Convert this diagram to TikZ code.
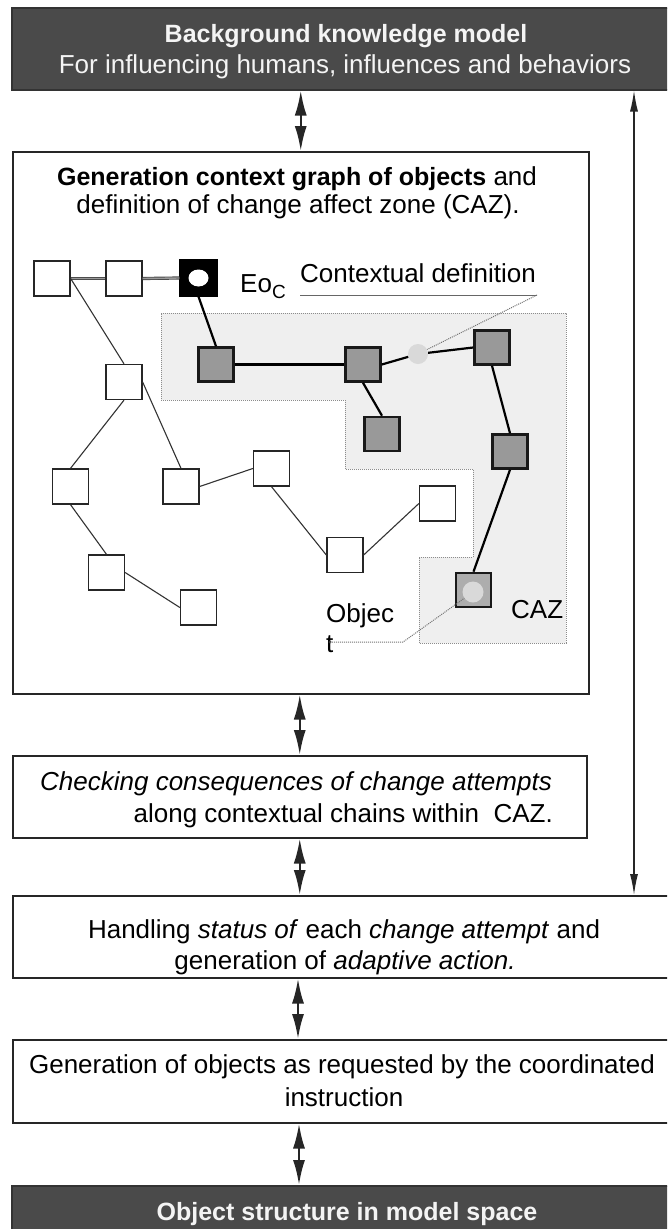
\documentclass[tikz,border=0pt]{standalone}
\usepackage{fontspec}
\setmainfont{Liberation Sans}
\usetikzlibrary{arrows.meta}

\definecolor{panel}{HTML}{4A4A4A}
\definecolor{objgray}{HTML}{999999}
\definecolor{zonefill}{HTML}{EFEFEF}
\definecolor{dotgray}{HTML}{D9D9D9}
\definecolor{paletext}{HTML}{F4F4F4}

\newcommand\regtext{\fontsize{26}{32}\selectfont}
\newcommand\boldtext{\fontsize{25}{32}\selectfont\bfseries}

\begin{document}
\begin{tikzpicture}[x=1pt,y=-1pt,
  frame/.style={draw=black!85,line width=1.5pt,fill=white,rectangle,inner sep=0,anchor=north west},
  darkframe/.style={draw=black!80,line width=1.5pt,fill=panel,rectangle,inner sep=0,anchor=north west},
  txt/.style={inner sep=0,anchor=base,font=\regtext},
  wtxt/.style={txt,text=paletext},
  dbl/.style={line width=2.4pt,black!85,{Latex[length=25pt,width=12pt]}-{Latex[length=25pt,width=12pt]}},
  sidearrow/.style={line width=1.3pt,black!85,{Latex[length=21pt,width=8pt]}-{Latex[length=21pt,width=8pt]}},
  wbox/.style={draw=black!85,line width=1.3pt,fill=white,minimum width=36,minimum height=35,inner sep=0},
  gbox/.style={draw=black!90,line width=2.6pt,fill=objgray,minimum width=35,minimum height=34,inner sep=0},
  thinedge/.style={draw=black!80,line width=1.1pt},
  bandedge/.style={draw=black!70,double=black!40,line width=0.9pt,double distance=1.4pt},
  boldedge/.style={draw=black,line width=2.2pt},
  lead/.style={densely dotted,draw=black!55,line width=1pt}
]
\clip (0,0) rectangle (667,1229);
\fill[white] (0,0) rectangle (667,1229);

% ---- main boxes ----
\node[darkframe,minimum width=666,minimum height=82] (top) at (11,7) {};
\node[frame,minimum width=576,minimum height=542] (graph) at (12,151) {};
\node[frame,minimum width=574,minimum height=82] (check) at (12,755) {};
\node[frame,minimum width=665,minimum height=82] (handle) at (12,895) {};
\node[frame,minimum width=665,minimum height=83] (gener) at (12,1039) {};
\node[darkframe,minimum width=666,minimum height=60] (bottom) at (11,1185) {};

% ---- box texts ----
\node[wtxt,font=\boldtext] (topA) at (346,42) {Background knowledge model};
\node[wtxt] (topB) at (345,73) {For influencing humans, influences and behaviors};

\node[txt] (gA) at (297,185) {{\boldtext Generation context graph of objects} and};
\node[txt] (gB) at (298,213) {definition of change affect zone (CAZ).};

\node[txt,anchor=base west] (cA) at (40,790) {\itshape Checking consequences of change attempts};
\node[txt,anchor=base east] (cB) at (553,822) {along contextual chains within\ \ CAZ.};

\node[txt] (hA) at (344,938) {Handling \textit{status of} each \textit{change attempt} and};
\node[txt] (hB) at (345,969) {generation of \textit{adaptive action.}};

\node[txt] (nA) at (342,1073) {Generation of objects as requested by the coordinated};
\node[txt] (nB) at (344,1106) {instruction};

\node[wtxt,font=\boldtext] (bA) at (347,1220) {Object structure in model space};

% ---- connectors between stages ----
\draw[dbl] (graph.north |- top.south) -- (graph.north);
\draw[dbl] (check.north |- graph.south) -- (check.north);
\draw[dbl] (check.south) -- (check.south |- handle.north);
\coordinate (ax) at (298,0);
\draw[dbl] (ax |- handle.south) -- (ax |- gener.north);
\coordinate (bx) at (299,0);
\draw[dbl] (bx |- gener.south) -- (bx |- bottom.north);
\coordinate (rx) at (634,0);
\draw[sidearrow] (rx |- top.south) -- (rx |- handle.north);

% ---- change affect zone ----
\filldraw[fill=zonefill,draw=black!45,densely dotted,line width=1pt]
  (161,313) -- (566,313) -- (566,643) -- (419,643) -- (419,557) -- (473,557)
  -- (473,469) -- (345,469) -- (345,400) -- (161,400) -- cycle;

% ---- object nodes ----
\node[wbox] (A) at (52,278.5) {};
\node[wbox] (B) at (124,278.5) {};
\node[draw=black,fill=black,line width=1.2pt,minimum width=37,minimum height=36,inner sep=0] (E) at (198.5,278) {};
\fill[white] (E.center) ellipse [x radius=10pt,y radius=8.5pt];

\node[gbox] (G1) at (216,364.5) {};
\node[gbox] (G2) at (363,364.5) {};
\node[circle,fill=dotgray,minimum size=20,inner sep=0] (dot) at (418,354) {};
\node[gbox] (G3) at (492,347.5) {};
\node[gbox] (G4) at (382,434) {};
\node[gbox] (G5) at (510,451.5) {};
\node[gbox,fill=black!32] (CZ) at (473.5,590) {};
\node[circle,fill=dotgray,minimum size=21,inner sep=0] (CZin) at (473,592) {};

\node[wbox] (W3) at (124,382) {};
\node[wbox] (W4) at (70.5,486.5) {};
\node[wbox] (W5) at (181,486.5) {};
\node[wbox] (W6) at (271.5,468.5) {};
\node[wbox] (W7) at (437.5,503.5) {};
\node[wbox] (W8) at (345,555) {};
\node[wbox] (W9) at (106.5,572.5) {};
\node[wbox] (W10) at (198.5,607.5) {};

% ---- graph edges ----
\draw[bandedge] (A.east) -- (B.west);
\draw[bandedge] (B.east) -- (E.west);
\draw[thinedge] (A.east) -- (W3.north);
\draw[thinedge] (W3.east) -- (W5.north);
\draw[thinedge] (W3.south) -- (W4.north);
\draw[thinedge] (W4.south) -- (W9.north);
\draw[thinedge] (W9.east) -- (W10.west);
\draw[thinedge] (W5.east) -- (W6.west);
\draw[thinedge] (W6.south) -- (W8.west);
\draw[thinedge] (W8.east) -- (W7.west);

\draw[boldedge] (E.south) -- (G1.north);
\draw[boldedge] (G1.east) -- (G2.west);
\draw[boldedge] (G2.east) -- (dot);
\draw[boldedge] (dot) -- (G3.west);
\draw[boldedge] (G2.south) -- (G4.north);
\draw[boldedge] (G3.south) -- (G5.north);
\draw[boldedge] (G5.south) -- (CZ.north);

% ---- labels ----
\node[txt,anchor=base west] (eoc) at (240,292) {Eo\raisebox{-6pt}{\fontsize{19}{19}\selectfont C}};
\node[txt,anchor=base west] (ctx) at (300,282) {Contextual definition};
\coordinate (ulL) at (300,295);
\coordinate (ulR) at (537,295);
\draw[black!60,line width=1pt] (ulL) -- (ulR);
\draw[lead] (ulR) -- (dot);

\node[txt,anchor=base west] (obj) at (326,622) {Objec};
\node[txt,anchor=base west] (objt) at (326,652) {t};
\coordinate (objS) at (330,642);
\coordinate (objK) at (403,642);
\fill[black!80] (objS) circle (1.6pt);
\draw[lead] (objS) -- (objK) -- (CZin);

\node[txt,anchor=base west] (caz) at (511,618) {CAZ};
\end{tikzpicture}
\end{document}
